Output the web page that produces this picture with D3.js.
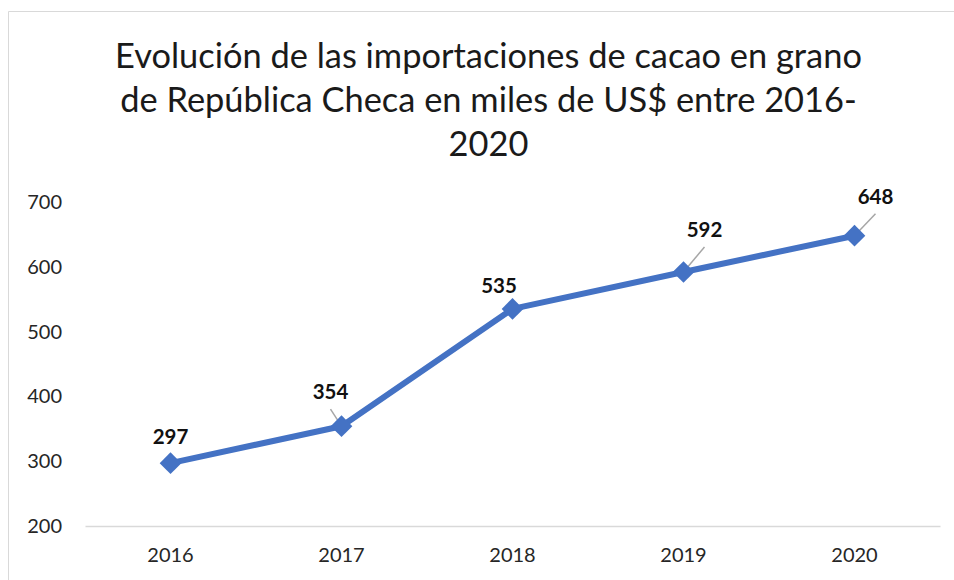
<!DOCTYPE html>
<html>
<head>
<meta charset="utf-8">
<script src="https://cdn.jsdelivr.net/npm/d3@7"></script>
<style>
  body { margin: 0; background: #fff; }
  svg { display: block; }
</style>
</head>
<body>
<div id="chart"></div>
<script>
// chart data
const years = ['2016', '2017', '2018', '2019', '2020']
const imports = [297, 354, 535, 592, 648]
const yTicks = [200, 300, 400, 500, 600, 700]
const titleLines = [
  'Evolución de las importaciones de cacao en grano',
  'de República Checa en miles de US$ entre 2016-',
  '2020'
]

// label placement relative to each point (dx, dy of text centre), leader line or not
const labelOffsets = [
  { dx: 0, dy: -26, leader: false },
  { dx: -11, dy: -34, leader: true },
  { dx: -13.5, dy: -23, leader: false },
  { dx: 21, dy: -42, leader: true },
  { dx: 21, dy: -39, leader: true }
]

const width = 954
const height = 580
const margin = { top: 202, right: 14, bottom: 54, left: 85 }
const lineColor = '#4472C4'
const font = 'Lato, "Open Sans", sans-serif'

const svg = d3.select('#chart').append('svg')
  .attr('width', width)
  .attr('height', height)

// outer chart frame (only top and left edges are visible in the crop)
svg.append('path')
  .attr('d', 'M8.5,' + height + 'V11.5H' + width)
  .attr('fill', 'none')
  .attr('stroke', '#d9d9d9')
  .attr('stroke-width', 1)

// title
const title = svg.append('g')
  .attr('font-family', font)
  .attr('fill', '#1a1a1a')
  .attr('text-anchor', 'middle')
const titleBaselines = [68, 112, 156]
const t0 = title.append('text').attr('font-size', 34).text(titleLines[0])
// fit title size to the reference width of the first line
const fs = 34 * 747 / t0.node().getComputedTextLength()
t0.remove()
title.selectAll('text')
  .data(titleLines)
  .join('text')
  .attr('x', 488.5)
  .attr('y', (d, i) => titleBaselines[i])
  .attr('font-size', fs)
  .text(d => d)

const x = d3.scaleBand()
  .domain(years)
  .range([margin.left, width - margin.right])
const y = d3.scaleLinear()
  .domain([200, 700])
  .range([height - margin.bottom, margin.top])

const cx = d => x(d) + x.bandwidth() / 2

// y axis labels
svg.append('g')
  .attr('transform', 'translate(' + (margin.left - 23) + ',0)')
  .call(d3.axisLeft(y).tickValues(yTicks).tickSize(0).tickPadding(0))
  .call(g => g.select('.domain').remove())
  .call(g => g.selectAll('text')
    .attr('font-family', font)
    .attr('font-size', 20)
    .attr('fill', '#262626'))

// x axis with baseline
svg.append('g')
  .attr('transform', 'translate(0,' + y(200) + ')')
  .call(d3.axisBottom(x).tickSize(0).tickPadding(22))
  .call(g => g.select('.domain')
    .attr('stroke', '#d9d9d9')
    .attr('stroke-width', 1.5))
  .call(g => g.selectAll('text')
    .attr('font-family', font)
    .attr('font-size', 20)
    .attr('fill', '#262626'))

// series line
const line = d3.line()
  .x((d, i) => cx(years[i]))
  .y(d => y(d))
svg.append('path')
  .datum(imports)
  .attr('d', line)
  .attr('fill', 'none')
  .attr('stroke', lineColor)
  .attr('stroke-width', 6)
  .attr('stroke-linejoin', 'round')

// leader lines from label to point
svg.append('g')
  .selectAll('line')
  .data(d3.range(imports.length).filter(i => labelOffsets[i].leader))
  .join('line')
  .attr('x1', i => cx(years[i]))
  .attr('y1', i => y(imports[i]))
  .attr('x2', i => cx(years[i]) + labelOffsets[i].dx)
  .attr('y2', i => y(imports[i]) + labelOffsets[i].dy + 17)
  .attr('stroke', '#a6a6a6')
  .attr('stroke-width', 1.5)

// diamond markers
const diamond = d3.symbol().type(d3.symbolSquare).size(235)
svg.append('g')
  .selectAll('path')
  .data(imports)
  .join('path')
  .attr('d', diamond)
  .attr('transform', (d, i) => 'translate(' + cx(years[i]) + ',' + y(d) + ') rotate(45)')
  .attr('fill', lineColor)

// data labels
svg.append('g')
  .attr('font-family', font)
  .attr('font-size', 20.5)
  .attr('font-weight', 'bold')
  .attr('fill', '#111')
  .attr('text-anchor', 'middle')
  .selectAll('text')
  .data(imports)
  .join('text')
  .attr('x', (d, i) => cx(years[i]) + labelOffsets[i].dx)
  .attr('y', (d, i) => y(d) + labelOffsets[i].dy)
  .attr('dy', '0.35em')
  .text(d => d)
</script>
</body>
</html>
